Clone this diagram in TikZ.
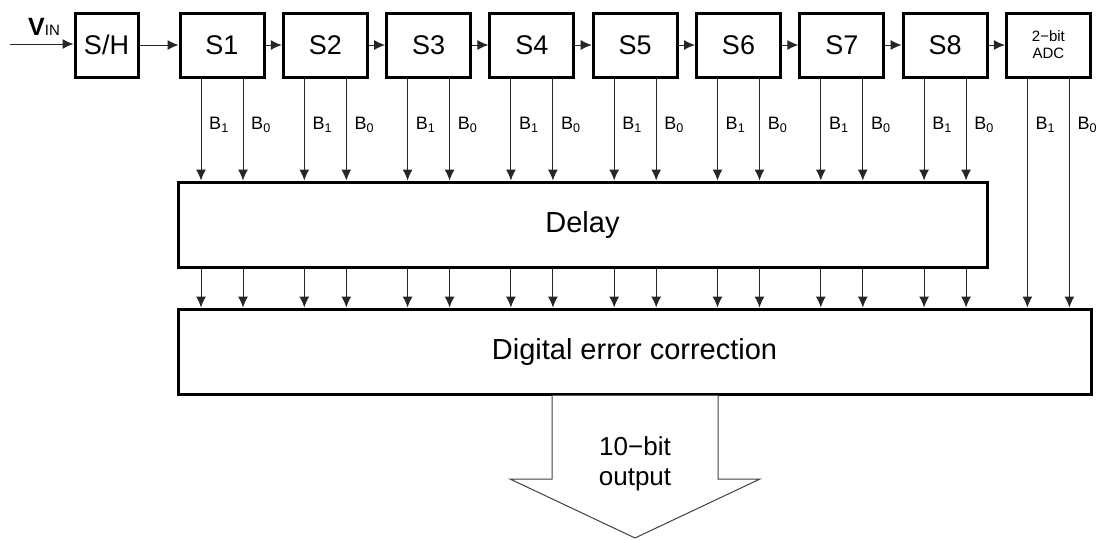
\documentclass[tikz,border=0pt]{standalone}
\usepackage{fontspec}
\setmainfont{Liberation Sans}
\usetikzlibrary{arrows.meta,positioning}

\tikzset{
  blk/.style={draw, line width=3pt, inner sep=0pt, align=center},
  stage/.style={blk, minimum width=84pt, minimum height=64pt, font=\fontsize{27}{30}\selectfont},
  wide/.style={blk, minimum height=85pt, font=\fontsize{29}{34}\selectfont},
  arr/.style={-{Latex[length=11pt,width=10pt]}, line width=1pt, black!85},
  bit/.style={font=\fontsize{18}{20}\selectfont, inner sep=0pt}
}

\begin{document}
\begin{tikzpicture}[x=1pt,y=-1pt]
  \useasboundingbox (0,0) rectangle (1104,539);

  % input and sample-and-hold
  \coordinate (vin) at (10,44);
  \node[inner sep=0pt] (vinlbl) at (44,27) {\fontsize{25}{28}\selectfont\textbf{V}\fontsize{15}{17}\selectfont IN};
  \node[stage, minimum width=63pt] (sh) at (106.5,45) {S/H};
  \draw[arr] (vin) -- (sh.west |- vin);

  % pipeline stages
  \foreach \i in {1,...,8}
    \node[stage] (s\i) at ({222+103.3*(\i-1)},45) {S\i};
  \node[stage, font=\fontsize{15}{17}\selectfont] (adc) at (1048.4,45) {2−bit\\ADC};

  \draw[arr] (sh) -- (s1);
  \foreach \i [evaluate=\i as \j using int(\i+1)] in {1,...,7}
    \draw[arr] (s\i) -- (s\j);
  \draw[arr] (s8) -- (adc);

  % delay and correction
  \node[wide, minimum width=809pt] (delay) at (582.5,224.5) {Delay};
  \node[wide, minimum width=913pt] (dec) at (634.5,351.5) {Digital error correction};

  \foreach \i in {1,...,8} {
    \draw[arr] ([xshift=-21pt]s\i.south) -- ([xshift=-21pt]s\i.south |- delay.north);
    \draw[arr] ([xshift=21pt]s\i.south) -- ([xshift=21pt]s\i.south |- delay.north);
    \node[bit] at ([xshift=-3pt,yshift=-46pt]s\i.south) {B\textsubscript{1}};
    \node[bit] at ([xshift=39pt,yshift=-46pt]s\i.south) {B\textsubscript{0}};
    \draw[arr] ([xshift=-21pt]s\i.south |- delay.south) -- ([xshift=-21pt]s\i.south |- dec.north);
    \draw[arr] ([xshift=21pt]s\i.south |- delay.south) -- ([xshift=21pt]s\i.south |- dec.north);
  }
  \draw[arr] ([xshift=-21pt]adc.south) -- ([xshift=-21pt]adc.south |- dec.north);
  \draw[arr] ([xshift=21pt]adc.south) -- ([xshift=21pt]adc.south |- dec.north);
  \node[bit] at ([xshift=-3pt,yshift=-46pt]adc.south) {B\textsubscript{1}};
  \node[bit] at ([xshift=39pt,yshift=-46pt]adc.south) {B\textsubscript{0}};

  % output arrow
  \draw[line width=1pt, black!75, fill=white]
    (dec.south -| 552,0) -- (552,479) -- (510,479) -- (635,538)
    -- (760,479) -- (718,479) -- (dec.south -| 718,0);
  \node[align=center, font=\fontsize{26}{30}\selectfont] (out) at (635,464) {10−bit\\output};
\end{tikzpicture}
\end{document}
